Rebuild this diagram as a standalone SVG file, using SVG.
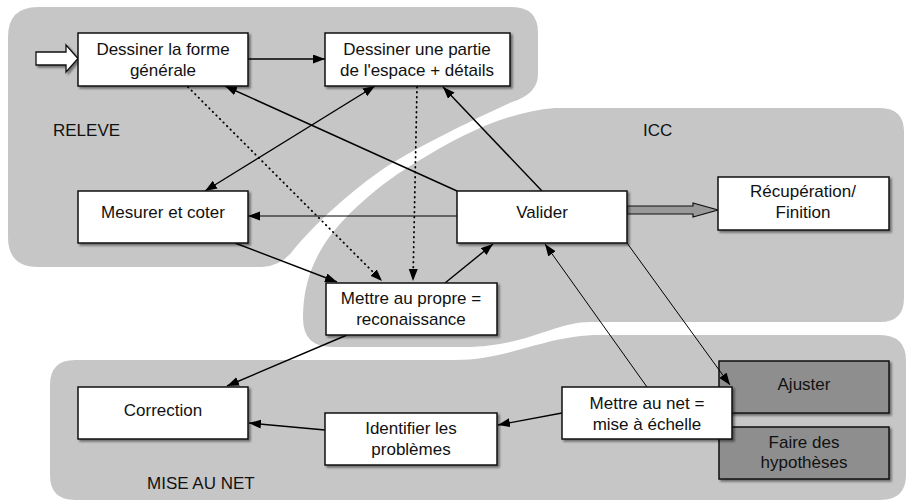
<svg xmlns="http://www.w3.org/2000/svg" width="906" height="502" viewBox="0 0 906 502">
<defs>
<style>
.region{fill:#c6c6c6}
.box{fill:#fff;stroke:#111;stroke-width:1.5;filter:url(#sh)}
.dark{fill:#8e8e8e;stroke:#111;stroke-width:1.5;filter:url(#sh)}
text{font-family:"Liberation Sans",Arial,sans-serif;font-size:17px;fill:#111}
.c{text-anchor:middle}
.ln{fill:none;stroke:#000;stroke-width:1.4;marker-end:url(#ah)}
.thin{stroke-width:1}
.dot{stroke-dasharray:0.5 4.5;stroke-linecap:round;stroke-width:1.8}
</style>
<marker id="ah" markerUnits="userSpaceOnUse" markerWidth="13" markerHeight="10" refX="12" refY="4.5" orient="auto-start-reverse"><path d="M0,0 L12,4.5 L0,9 Z" fill="#000"/></marker>
<filter id="sh" x="-10%" y="-10%" width="130%" height="140%"><feDropShadow dx="2" dy="2" stdDeviation="1.3" flood-color="#000" flood-opacity="0.45"/></filter>
</defs>

<g id="regions">
<path id="releve-area" class="region" d="M40 7 H512 Q538 7 538 33 V74 Q538 94 512 102 C485 114 420 145 386 167 C352 190 313 225 291 253 Q280 266 262 267 H38 Q8 267 8 237 V37 Q8 7 38 7 Z"/>
<path id="icc-area" class="region" d="M555 108 H880 Q904 108 904 132 V298 Q904 322 880 322 H590 C555 322 525 347 465 347 H332 Q303 347 303 318 C303 290 310 268 322 248 C340 218 380 183 420 160 C460 136 505 112 555 108 Z"/>
<path id="mise-area" class="region" d="M75 360 H455 C510 360 545 335 600 335 H880 Q906 335 906 361 V475 Q906 500 880 500 H75 Q50 500 50 475 V385 Q50 360 75 360 Z"/>
<text x="53" y="136">RELEVE</text>
<text x="643" y="136">ICC</text>
<text x="147" y="489">MISE AU NET</text>
</g>

<g id="n-ajuster">
<rect class="dark" x="719" y="361" width="170" height="52"/>
<text class="c" x="804" y="390">Ajuster</text>
</g>
<g id="n-hypotheses">
<rect class="dark" x="719" y="427" width="170" height="52"/>
<text class="c" x="804" y="448">Faire des</text>
<text class="c" x="804" y="468">hypothèses</text>
</g>

<g id="connectors">
<line class="ln" x1="248" y1="59" x2="325" y2="59"/>
<line class="ln" x1="457" y1="191" x2="225" y2="86"/>
<line class="ln" x1="205" y1="191" x2="375" y2="86" style="marker-start:url(#ah)"/>
<line class="ln" x1="542" y1="191" x2="443" y2="87"/>
<line class="ln thin" x1="457" y1="216" x2="248" y2="216"/>
<line class="ln" x1="235" y1="243" x2="337" y2="282"/>
<line class="ln dot" x1="188" y1="87" x2="382" y2="281"/>
<line class="ln dot" x1="417" y1="87" x2="413" y2="281"/>
<line class="ln" x1="445" y1="283" x2="493" y2="244"/>
<line class="ln thin" x1="647" y1="387" x2="545" y2="244"/>
<line class="ln thin" x1="627" y1="243" x2="730" y2="385"/>
<line class="ln" x1="347" y1="335" x2="227" y2="386"/>
<line class="ln" x1="562" y1="413" x2="498" y2="425"/>
<line class="ln" x1="325" y1="430" x2="249" y2="423"/>
<path id="to-recup" d="M627 206 H693 V203 L718 210 L693 217 V214 H627 Z" fill="#999" stroke="#111" stroke-width="1.2"/>
<path id="input" d="M36 52 H66 V45 L78 58.5 L66 72 V65 H36 Z" fill="#fff" stroke="#111" stroke-width="1.3" filter="url(#sh)"/>
</g>

<g id="n-forme">
<rect class="box" x="78" y="33" width="170" height="53"/>
<text class="c" x="163" y="55">Dessiner la forme</text>
<text class="c" x="163" y="76">générale</text>
</g>
<g id="n-partie">
<rect class="box" x="325" y="33" width="185" height="53"/>
<text class="c" x="417" y="55">Dessiner une partie</text>
<text class="c" x="417" y="76">de l'espace + détails</text>
</g>
<g id="n-mesurer">
<rect class="box" x="78" y="191" width="170" height="52"/>
<text class="c" x="163" y="218">Mesurer et coter</text>
</g>
<g id="n-valider">
<rect class="box" x="457" y="191" width="170" height="52"/>
<text class="c" x="542" y="218">Valider</text>
</g>
<g id="n-recup">
<rect class="box" x="718" y="177" width="171" height="53"/>
<text class="c" x="803" y="197">Récupération/</text>
<text class="c" x="803" y="218">Finition</text>
</g>
<g id="n-propre">
<rect class="box" x="326" y="283" width="171" height="52"/>
<text class="c" x="411" y="304">Mettre au propre =</text>
<text class="c" x="411" y="325">reconaissance</text>
</g>
<g id="n-correction">
<rect class="box" x="78" y="387" width="170" height="52"/>
<text class="c" x="163" y="416">Correction</text>
</g>
<g id="n-identifier">
<rect class="box" x="325" y="413" width="172" height="52"/>
<text class="c" x="411" y="434">Identifier les</text>
<text class="c" x="411" y="455">problèmes</text>
</g>
<g id="n-net">
<rect class="box" x="562" y="387" width="170" height="52"/>
<text class="c" x="647" y="409">Mettre au net =</text>
<text class="c" x="647" y="430">mise à échelle</text>
</g>
</svg>
